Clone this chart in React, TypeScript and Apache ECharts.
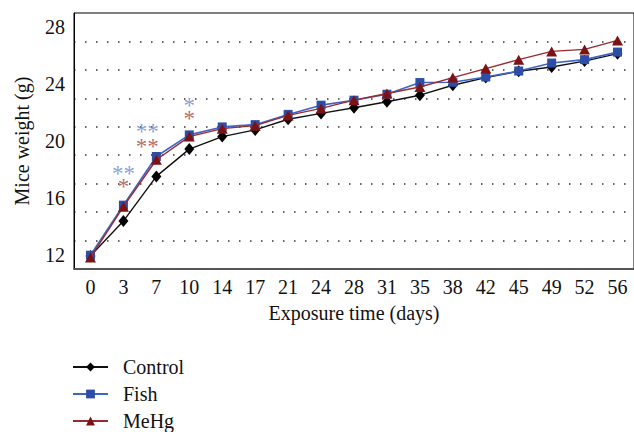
import React, { useEffect, useRef } from "react";
import * as echarts from "echarts";

const days = ["0", "3", "7", "10", "14", "17", "21", "24", "28", "31", "35", "38", "42", "45", "49", "52", "56"];
const control = [11.92, 14.37, 17.51, 19.43, 20.31, 20.78, 21.53, 21.94, 22.34, 22.76, 23.22, 23.92, 24.46, 24.9, 25.2, 25.62, 26.14];
const fish = [11.97, 15.49, 18.91, 20.43, 20.99, 21.15, 21.87, 22.52, 22.87, 23.29, 24.11, 24.13, 24.5, 24.92, 25.48, 25.72, 26.25];
const mehg = [11.8, 15.38, 18.68, 20.31, 20.87, 21.08, 21.8, 22.29, 22.87, 23.34, 23.8, 24.46, 25.09, 25.72, 26.3, 26.44, 27.07];
const yTicks = [12, 16, 20, 24, 28];
const fishSig: [string, number, string][] = [["3", 17.79, "**"], ["7", 20.71, "**"], ["10", 22.59, "*"]];
const mehgSig: [string, number, string][] = [["3", 16.89, "*"], ["7", 19.68, "**"], ["10", 21.67, "*"]];

const FONT = "Liberation Serif";

export default function App() {
  const ref = useRef<HTMLDivElement>(null);
  useEffect(() => {
    if (!ref.current) return;
    const chart = echarts.init(ref.current, undefined, { renderer: "svg" });
    const sigSeries = (name: string, arr: [string, number, string][], color: string) => ({
      type: "scatter",
      name,
      silent: true,
      symbolSize: 1,
      itemStyle: { color: "rgba(0,0,0,0)" },
      z: 5,
      data: arr.map(([d, v, t]) => ({
        value: [d, v, t],
        label: d === "7" ? { offset: [-9, 1] } : undefined,
      })),
      label: {
        show: true,
        position: "inside",
        offset: [0, 1],
        formatter: (p: any) => p.value[2],
        color,
        fontSize: 23,
        fontFamily: FONT,
        lineHeight: 11,
        padding: [0, 0, 0, 0],
      },
    });
    chart.setOption({
      animation: false,
      backgroundColor: "#fff",
      textStyle: { fontFamily: FONT },
      grid: { left: 74, top: 13, width: 563, height: 256, show: true, borderColor: "#000", borderWidth: 1 },
      legend: {
        data: ["Control", "Fish", "MeHg"],
        orient: "vertical",
        left: 72,
        top: 357,
        height: 90,
        padding: 0,
        itemWidth: 35,
        itemHeight: 11,
        itemGap: 7,
        textStyle: { fontFamily: FONT, fontSize: 20, color: "#111", padding: [0, 0, 0, 10], lineHeight: 18 },
      },
      xAxis: {
        type: "category",
        data: days,
        boundaryGap: true,
        axisLine: { show: true, lineStyle: { color: "#555", width: 2 } },
        axisTick: { show: false },
        axisLabel: { fontFamily: FONT, fontSize: 20, color: "#111", margin: 8, interval: 0 },
        name: "Exposure time (days)",
        nameLocation: "middle",
        nameGap: 34,
        nameTextStyle: { fontFamily: FONT, fontSize: 20, color: "#111" },
      },
      yAxis: [
        {
          type: "value",
          min: 11,
          max: 29,
          interval: 1,
          axisLine: { show: true, lineStyle: { color: "#000", width: 1 } },
          axisTick: { show: false },
          splitLine: { show: false },
          axisLabel: {
            fontFamily: FONT,
            fontSize: 20,
            color: "#111",
            margin: 9,
            formatter: (v: number) => (yTicks.includes(v) ? String(v) : ""),
          },
          name: "Mice weight (g)",
          nameLocation: "middle",
          nameGap: 42,
          nameTextStyle: { fontFamily: FONT, fontSize: 20, color: "#111" },
        },
        {
          type: "value",
          min: 11,
          max: 29,
          interval: 2,
          position: "left",
          axisLine: { show: false },
          axisTick: { show: false },
          axisLabel: { show: false },
          splitLine: {
            show: true,
            showMinLine: false,
            showMaxLine: false,
            lineStyle: { color: "#333", width: 1.5, type: [1.5, 9.5], dashOffset: -11 },
          },
        },
      ],
      series: [
        {
          type: "line",
          name: "Control",
          data: control,
          symbol: "diamond",
          symbolSize: [10, 12],
          itemStyle: { color: "#000" },
          lineStyle: { color: "#111", width: 1.4 },
          z: 2,
        },
        {
          type: "line",
          name: "Fish",
          data: fish,
          symbol: "rect",
          symbolSize: 9,
          itemStyle: { color: "#2d4ea6" },
          lineStyle: { color: "#3f64c6", width: 1.6 },
          z: 3,
        },
        {
          type: "line",
          name: "MeHg",
          data: mehg,
          symbol: "triangle",
          symbolSize: [11, 10],
          itemStyle: { color: "#7d1214" },
          lineStyle: { color: "#9b2a2c", width: 1.4 },
          z: 4,
        },
        sigSeries("fishSig", fishSig, "#6a87cc"),
        sigSeries("mehgSig", mehgSig, "#a24646"),
      ],
    });
    return () => chart.dispose();
  }, []);
  return <div ref={ref} style={{ position: "absolute", left: 0, top: 0, width: 634, height: 432 }} />;
}
